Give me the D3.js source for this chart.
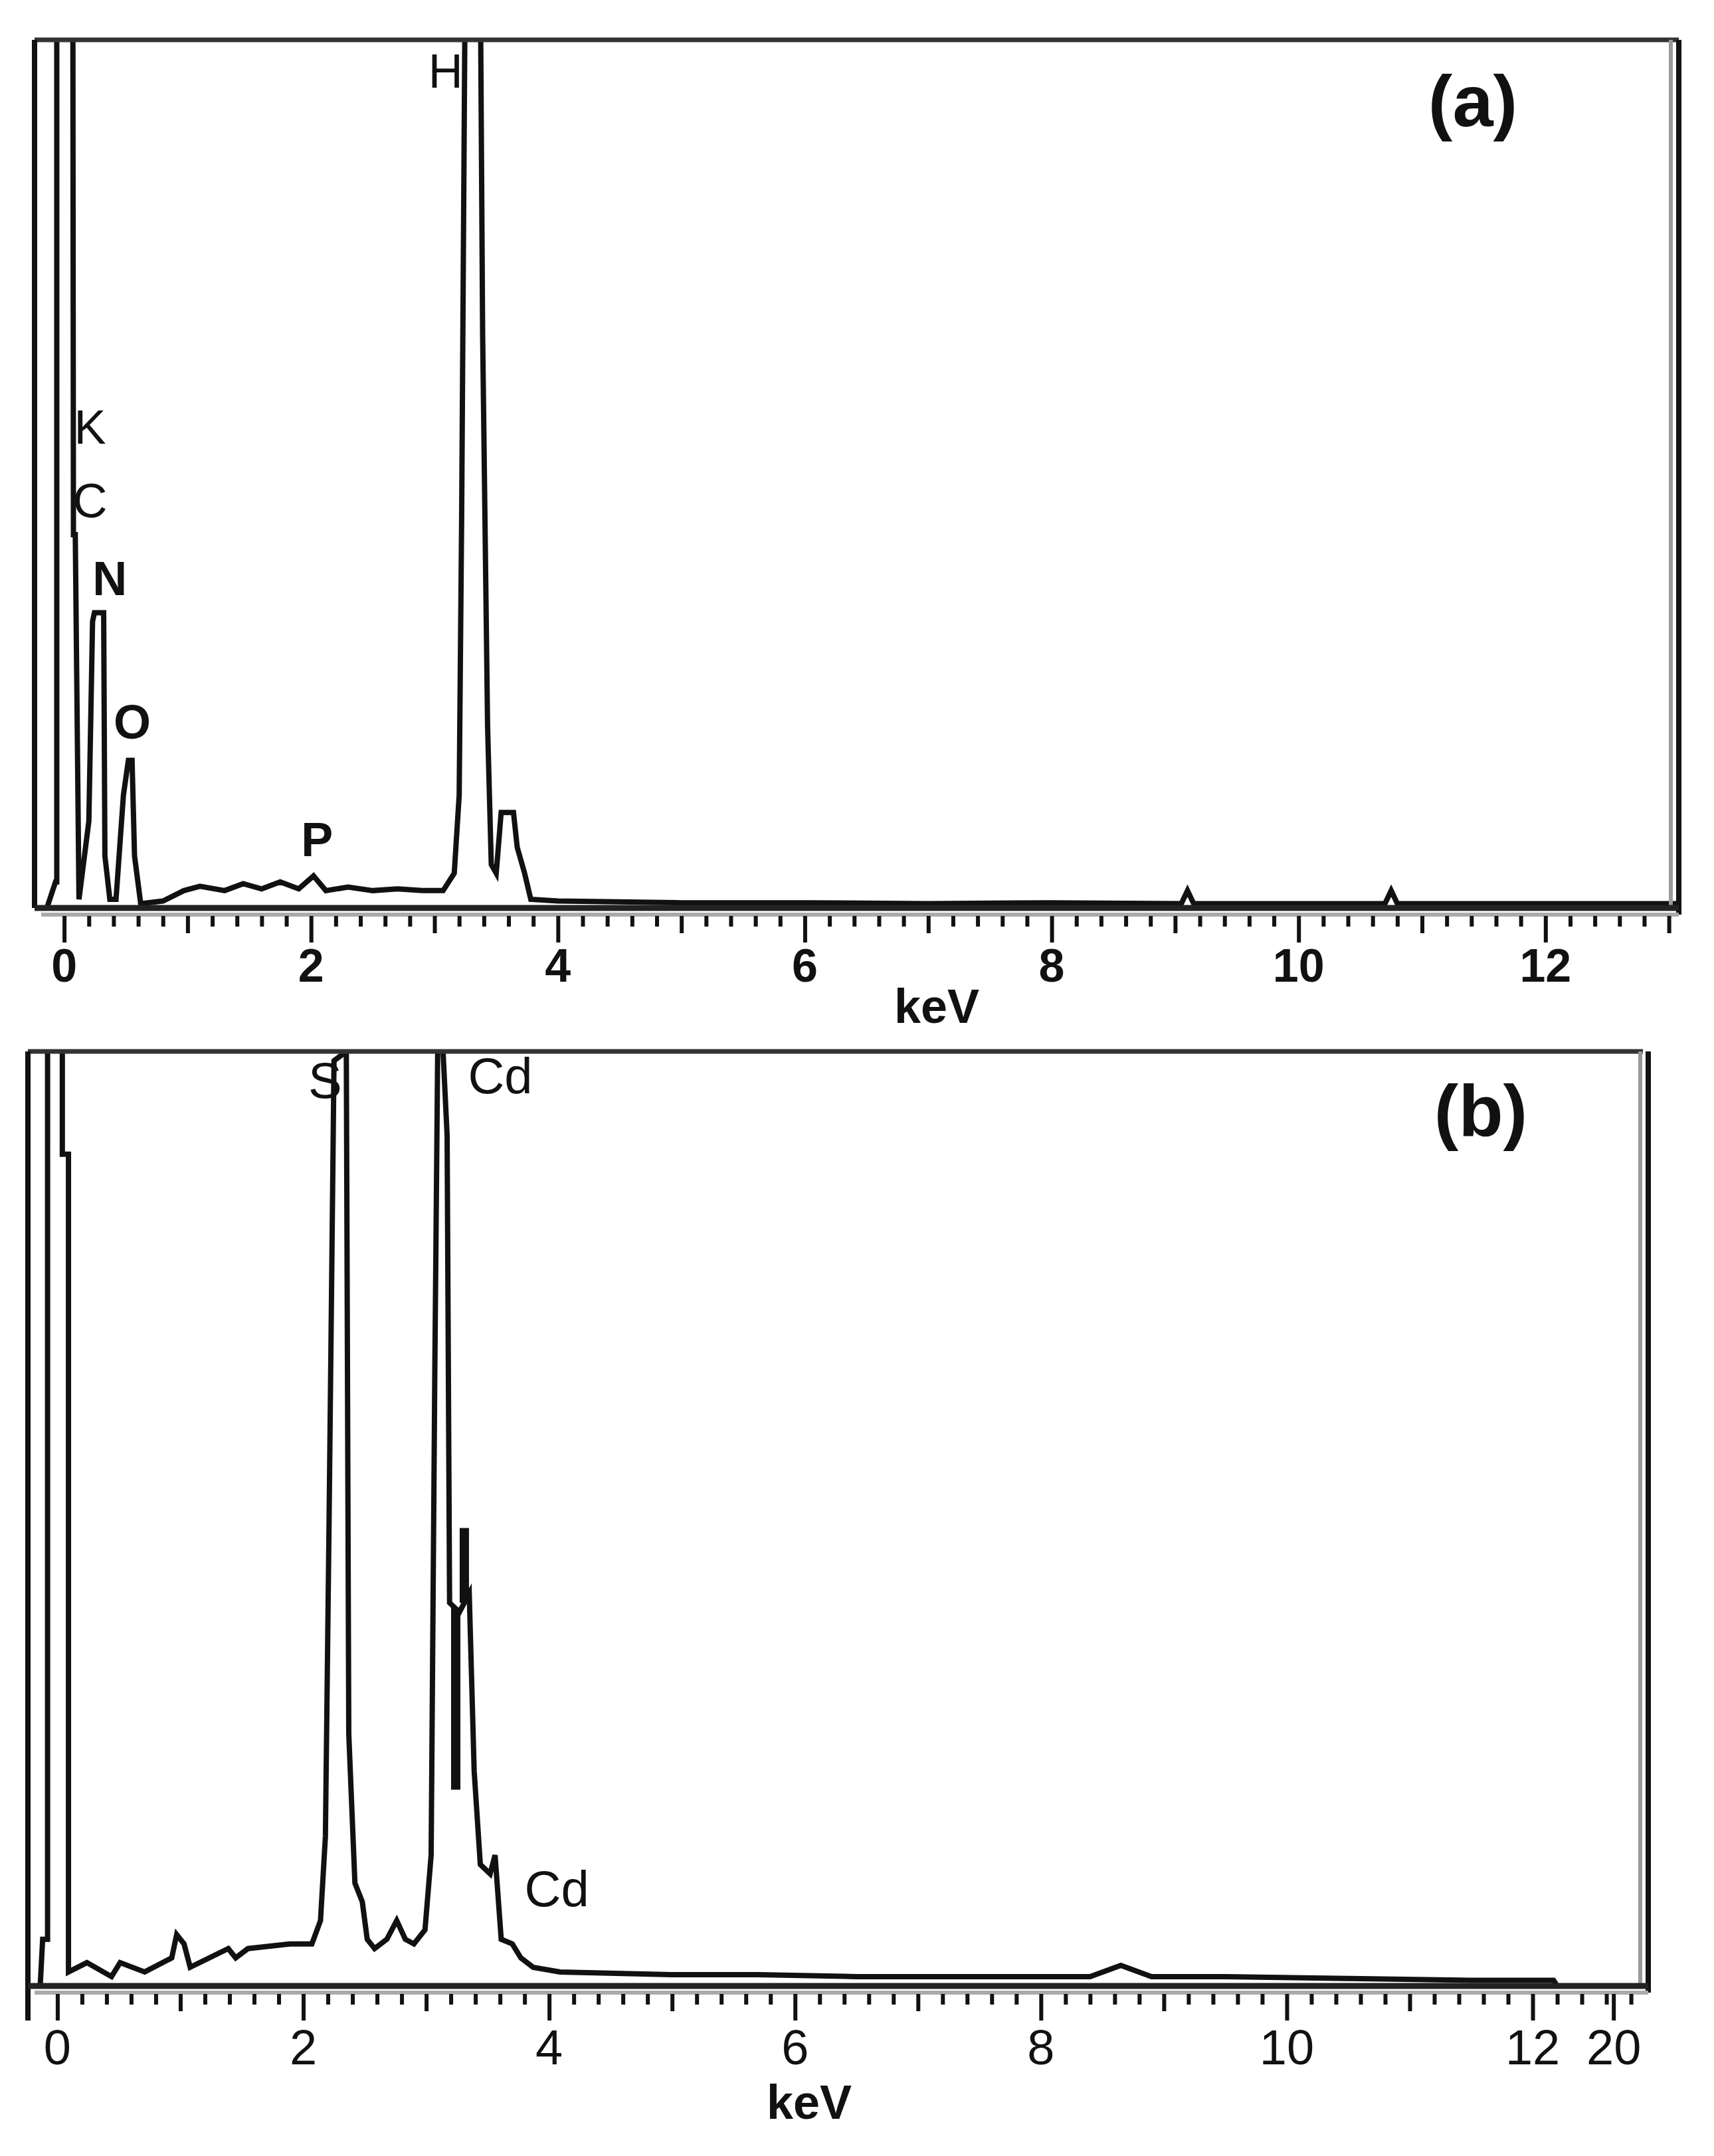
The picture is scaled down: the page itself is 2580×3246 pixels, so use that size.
<!DOCTYPE html>
<html>
<head>
<meta charset="utf-8">
<script src="https://cdn.jsdelivr.net/npm/d3@7"></script>
<style>
  body { margin: 0; background: #fff; }
  text { fill: #111; }
</style>
</head>
<body>
<svg id="chart" width="2580" height="3246"></svg>
<script>
// spectrum (a): energy in keV, intensity as fraction of full scale
var energyA = [-0.14, -0.07, -0.06, -0.06, 0.07, 0.075, 0.09, 0.12, 0.20, 0.23, 0.245, 0.32, 0.33, 0.37, 0.42, 0.48, 0.52, 0.55, 0.57, 0.62, 0.8, 0.97, 1.1, 1.3, 1.45, 1.6, 1.75, 1.9, 2.02, 2.12, 2.3, 2.5, 2.7, 2.9, 3.07, 3.16, 3.2, 3.22, 3.25, 3.37, 3.39, 3.43, 3.46, 3.5, 3.54, 3.64, 3.67, 3.73, 3.78, 4.0, 5.0, 6.0, 7.0, 8.0, 9.05, 9.1, 9.15, 10.0, 10.7, 10.75, 10.8, 12.0, 13.1];
var countsA = [0.0, 0.03, 0.03, 1.1, 1.1, 0.43, 0.43, 0.01, 0.1, 0.33, 0.34, 0.34, 0.06, 0.01, 0.01, 0.13, 0.17, 0.17, 0.06, 0.005, 0.008, 0.02, 0.025, 0.02, 0.028, 0.022, 0.03, 0.022, 0.037, 0.02, 0.024, 0.02, 0.022, 0.02, 0.02, 0.04, 0.13, 0.45, 1.1, 1.1, 0.66, 0.21, 0.05, 0.04, 0.11, 0.11, 0.07, 0.04, 0.01, 0.008, 0.006, 0.006, 0.005, 0.006, 0.005, 0.02, 0.005, 0.005, 0.005, 0.02, 0.005, 0.005, 0.005];

// spectrum (b)
var energyB = [-0.14, -0.12, -0.08, -0.08, 0.04, 0.04, 0.09, 0.09, 0.24, 0.44, 0.51, 0.71, 0.93, 0.97, 1.03, 1.08, 1.39, 1.45, 1.55, 1.89, 2.07, 2.14, 2.18, 2.21, 2.25, 2.35, 2.37, 2.42, 2.48, 2.52, 2.58, 2.68, 2.76, 2.83, 2.90, 2.99, 3.04, 3.07, 3.10, 3.17, 3.19, 3.27, 3.35, 3.39, 3.44, 3.52, 3.56, 3.61, 3.70, 3.77, 3.87, 4.09, 5.0, 5.7, 6.5, 7.5, 8.4, 8.65, 8.9, 9.5, 10.5, 11.5, 12.17, 12.2, 12.95];
var countsB = [0.0, 0.05, 0.05, 1.1, 1.1, 0.89, 0.89, 0.015, 0.025, 0.01, 0.025, 0.015, 0.03, 0.055, 0.045, 0.02, 0.04, 0.03, 0.04, 0.045, 0.045, 0.07, 0.16, 0.50, 0.99, 1.0, 0.27, 0.11, 0.09, 0.05, 0.04, 0.05, 0.07, 0.05, 0.045, 0.06, 0.14, 0.66, 1.1, 0.91, 0.41, 0.40, 0.42, 0.23, 0.13, 0.12, 0.14, 0.05, 0.045, 0.03, 0.02, 0.015, 0.012, 0.012, 0.01, 0.01, 0.01, 0.022, 0.01, 0.01, 0.008, 0.006, 0.006, 0.0, 0.0];

var ticksA = [0, 2, 4, 6, 8, 10, 12];
var ticksB = [0, 2, 4, 6, 8, 10, 12];
var tickLabelsB = ["0", "2", "4", "6", "8", "10", "12"];
var brokenTickB = {value: 12.66, label: "20"};

var labelsA = [
  {text: "H", e: 2.95, y: 0.945},
  {text: "K", e: 0.08, y: 0.535},
  {text: "C", e: 0.07, y: 0.45},
  {text: "N", e: 0.23, y: 0.36},
  {text: "O", e: 0.40, y: 0.195},
  {text: "P", e: 1.92, y: 0.06}
];
var labelsB = [
  {text: "S", e: 2.04, y: 0.95},
  {text: "Cd", e: 3.34, y: 0.955},
  {text: "Cd", e: 3.8, y: 0.085}
];

var svg = d3.select("#chart");

function panel(o) {
  var g = svg.append("g");
  var x = d3.scaleLinear().domain(o.domain).range([o.left, o.right]);
  var y = d3.scaleLinear().domain([0, 1]).range([o.base, o.top]);

  var clipId = "clip" + o.name;
  svg.append("clipPath").attr("id", clipId).append("rect")
    .attr("x", o.left).attr("y", o.top).attr("width", o.right - o.left).attr("height", o.base - o.top);

  // spectrum
  var pts = o.energy.map(function(e, i) { return [e, o.counts[i]]; });
  g.append("path")
    .datum(pts)
    .attr("clip-path", "url(#" + clipId + ")")
    .attr("fill", "none")
    .attr("stroke", "#111")
    .attr("stroke-width", 8)
    .attr("stroke-linejoin", "miter")
    .attr("d", d3.line().x(function(d) { return x(d[0]); }).y(function(d) { return y(d[1]); }));

  // frame
  g.append("line").attr("x1", o.left).attr("x2", o.topEnd).attr("y1", o.top).attr("y2", o.top)
    .attr("stroke", "#333").attr("stroke-width", 7);
  g.append("line").attr("x1", o.left).attr("x2", o.left).attr("y1", o.top).attr("y2", o.leftBottom)
    .attr("stroke", "#111").attr("stroke-width", 8);
  g.append("line").attr("x1", o.right - 12).attr("x2", o.right - 12).attr("y1", o.top).attr("y2", o.base)
    .attr("stroke", "#999").attr("stroke-width", 6);
  g.append("line").attr("x1", o.right).attr("x2", o.right).attr("y1", o.top).attr("y2", o.base + 10)
    .attr("stroke", "#111").attr("stroke-width", 8);
  g.append("line").attr("x1", o.left).attr("x2", o.right).attr("y1", o.base).attr("y2", o.base)
    .attr("stroke", "#222").attr("stroke-width", 9);
  g.append("line").attr("x1", o.left + 10).attr("x2", o.right).attr("y1", o.base + 10).attr("y2", o.base + 10)
    .attr("stroke", "#aaa").attr("stroke-width", 6);

  // x axis with minor ticks every 0.2 keV
  var minor = d3.range(0, o.minorMax + 0.001, 0.2).map(function(v) { return +v.toFixed(1); });
  var axis = d3.axisBottom(x)
    .tickValues(minor)
    .tickSize(0)
    .tickFormat("");
  var ax = g.append("g").attr("transform", "translate(0," + (o.base + 12) + ")").call(axis);
  ax.select(".domain").remove();
  ax.selectAll(".tick").append("line")
    .attr("stroke", "#111").attr("stroke-width", 6)
    .attr("y1", 0)
    .attr("y2", function(d) {
      if (Math.abs(d % 2) < 0.01) return 40;
      if (Math.abs(d % 1) < 0.01) return 26;
      return 16;
    });

  o.ticks.forEach(function(t, i) {
    g.append("text")
      .attr("x", x(t)).attr("y", o.tickY)
      .attr("text-anchor", "middle")
      .attr("font-family", o.tickFont)
      .attr("font-weight", o.tickWeight)
      .attr("font-size", o.tickSize)
      .text(o.tickLabels ? o.tickLabels[i] : t);
  });
  if (o.broken) {
    g.append("line").attr("x1", x(o.broken.value)).attr("x2", x(o.broken.value))
      .attr("y1", o.base + 12).attr("y2", o.base + 52).attr("stroke", "#111").attr("stroke-width", 6);
    g.append("text")
      .attr("x", x(o.broken.value)).attr("y", o.tickY)
      .attr("text-anchor", "middle").attr("font-family", o.tickFont)
      .attr("font-size", o.tickSize).text(o.broken.label);
  }

  g.append("text")
    .attr("x", o.titleX).attr("y", o.titleY)
    .attr("text-anchor", "middle")
    .attr("font-family", "Liberation Sans, Arial, sans-serif")
    .attr("font-weight", "bold")
    .attr("font-size", 72)
    .text("keV");

  o.labels.forEach(function(l) {
    g.append("text")
      .attr("x", x(l.e)).attr("y", y(l.y))
      .attr("font-family", "Liberation Sans, Arial, sans-serif")
      .attr("font-weight", l.text === "N" || l.text === "O" || l.text === "P" ? "bold" : "normal")
      .attr("font-size", o.labelSize)
      .text(l.text);
  });

  g.append("text")
    .attr("x", o.tagX).attr("y", o.tagY)
    .attr("text-anchor", "middle")
    .attr("font-family", "Liberation Sans, Arial, sans-serif")
    .attr("font-weight", "bold")
    .attr("font-size", 110)
    .text(o.tag);

  return {x: x, y: y, g: g};
}

var pa = panel({
  name: "a", energy: energyA, counts: countsA,
  domain: [-0.24, 13.08], left: 52, right: 2527, top: 60, base: 1367, topEnd: 2527, leftBottom: 1367,
  minorMax: 13, ticks: ticksA, tickY: 1478, tickSize: 70,
  tickFont: "Liberation Sans Narrow, Liberation Sans, sans-serif", tickWeight: "bold",
  titleX: 1410, titleY: 1540, labels: labelsA, labelSize: 72,
  tag: "(a)", tagX: 2217, tagY: 190
});

var pb = panel({
  name: "b", energy: energyB, counts: countsB,
  domain: [-0.24, 12.94], left: 42, right: 2481, top: 1583, base: 2990, topEnd: 2473, leftBottom: 3042,
  minorMax: 12.8, ticks: ticksB, tickLabels: tickLabelsB, broken: brokenTickB, tickY: 3108, tickSize: 74,
  tickFont: "Liberation Sans, Arial, sans-serif", tickWeight: "normal",
  titleX: 1218, titleY: 3190, labels: labelsB, labelSize: 76,
  tag: "(b)", tagX: 2229, tagY: 1710
});

// peak marker bars in (b)
var markB = [{e: 3.24, y0: 0.21, y1: 0.405}, {e: 3.31, y0: 0.41, y1: 0.49}];
pb.g.selectAll(".mark").data(markB).enter().append("line")
  .attr("x1", function(d) { return pb.x(d.e); }).attr("x2", function(d) { return pb.x(d.e); })
  .attr("y1", function(d) { return pb.y(d.y0); }).attr("y2", function(d) { return pb.y(d.y1); })
  .attr("stroke", "#111").attr("stroke-width", 14);
</script>
</body>
</html>
